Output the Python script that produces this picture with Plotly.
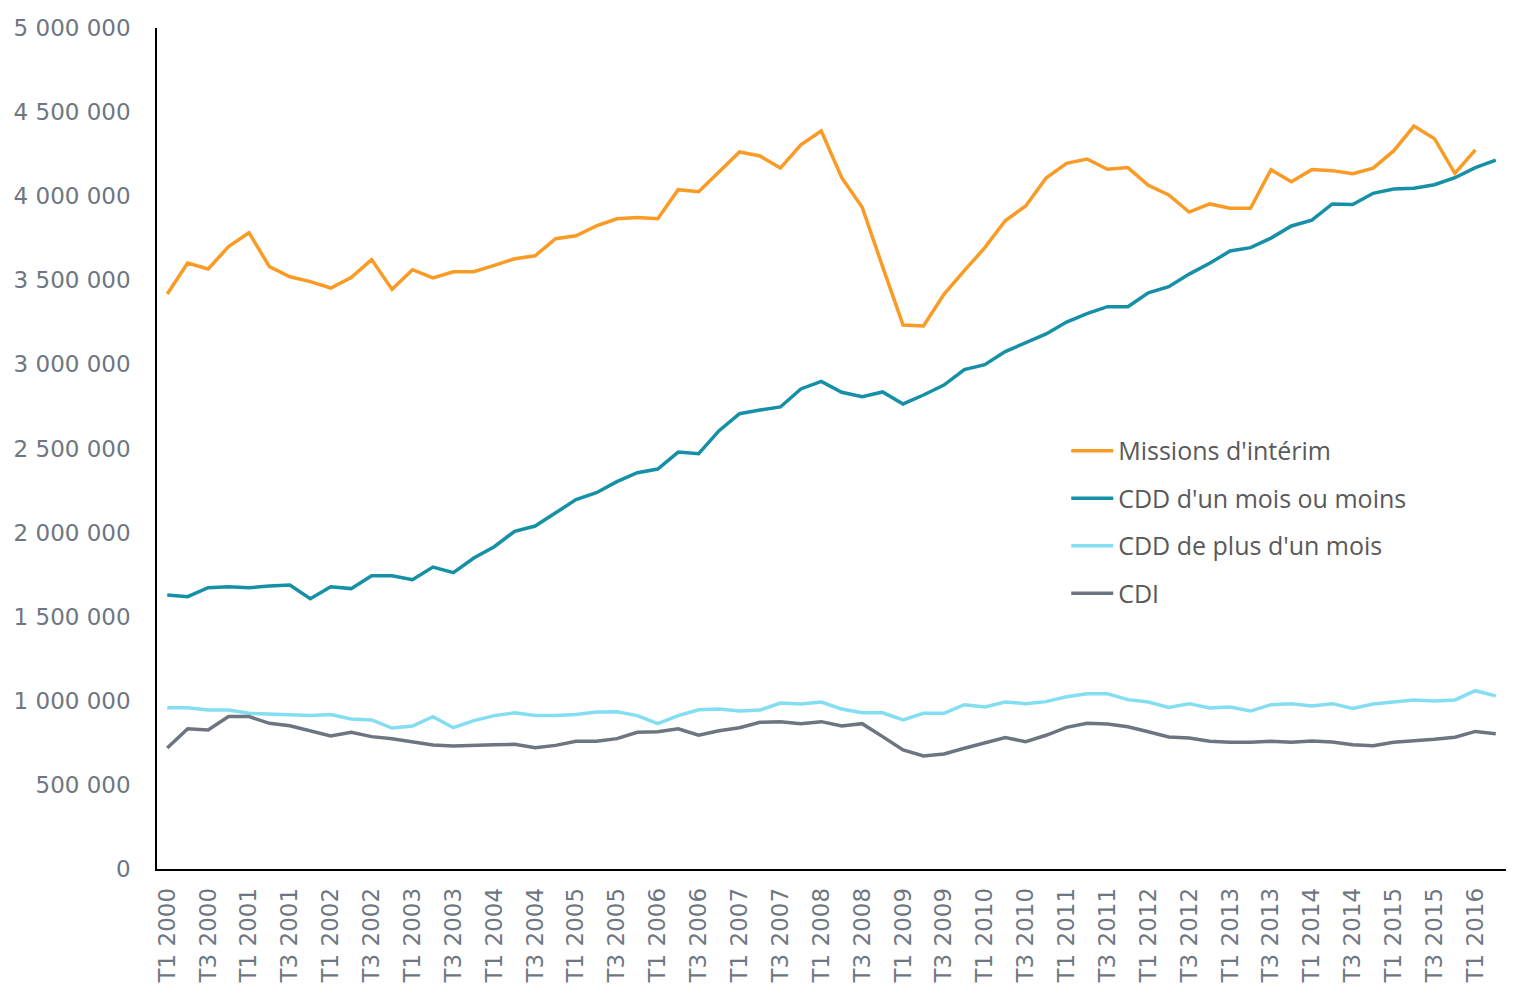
import plotly.graph_objects as go

quarters = [f"T{q} {y}" for y in range(2000, 2017) for q in (1, 2, 3, 4)][:66]

interim = [3.419, 3.603, 3.567, 3.700, 3.783, 3.581, 3.521, 3.492, 3.454, 3.516,
           3.623, 3.446, 3.563, 3.514, 3.551, 3.551, 3.589, 3.628, 3.646, 3.747,
           3.765, 3.823, 3.866, 3.874, 3.866, 4.039, 4.027, 4.146, 4.263, 4.239,
           4.167, 4.306, 4.388, 4.110, 3.934, 3.581, 3.234, 3.228, 3.417, 3.557,
           3.694, 3.854, 3.942, 4.108, 4.195, 4.221, 4.160, 4.170, 4.065, 4.007,
           3.906, 3.954, 3.928, 3.928, 4.158, 4.086, 4.158, 4.152, 4.134, 4.167,
           4.269, 4.417, 4.342, 4.136, 4.276, None]

cdd_court = [1.629, 1.619, 1.672, 1.678, 1.672, 1.683, 1.688, 1.607, 1.678, 1.667,
             1.744, 1.744, 1.720, 1.795, 1.762, 1.849, 1.916, 2.008, 2.039, 2.118,
             2.196, 2.237, 2.303, 2.356, 2.378, 2.479, 2.469, 2.606, 2.707, 2.729,
             2.747, 2.854, 2.899, 2.834, 2.808, 2.836, 2.765, 2.818, 2.877, 2.969,
             2.998, 3.076, 3.131, 3.181, 3.252, 3.302, 3.343, 3.343, 3.426, 3.462,
             3.537, 3.601, 3.674, 3.694, 3.751, 3.823, 3.858, 3.954, 3.950, 4.017,
             4.043, 4.047, 4.068, 4.110, 4.170, 4.215]

cdd_long = [0.959, 0.959, 0.945, 0.945, 0.926, 0.920, 0.918, 0.912, 0.918, 0.892,
            0.886, 0.838, 0.850, 0.906, 0.840, 0.882, 0.912, 0.929, 0.912, 0.912,
            0.918, 0.933, 0.935, 0.912, 0.864, 0.912, 0.947, 0.951, 0.939, 0.945,
            0.987, 0.981, 0.993, 0.951, 0.929, 0.929, 0.886, 0.926, 0.926, 0.977,
            0.963, 0.993, 0.983, 0.995, 1.024, 1.042, 1.042, 1.007, 0.993, 0.961,
            0.983, 0.957, 0.963, 0.939, 0.977, 0.983, 0.969, 0.983, 0.955, 0.981,
            0.993, 1.005, 0.999, 1.005, 1.060, 1.029]

cdi = [0.719, 0.834, 0.826, 0.906, 0.906, 0.866, 0.852, 0.820, 0.791, 0.813,
       0.787, 0.775, 0.757, 0.737, 0.731, 0.737, 0.739, 0.741, 0.721, 0.735,
       0.759, 0.759, 0.775, 0.813, 0.816, 0.834, 0.795, 0.822, 0.840, 0.872,
       0.876, 0.864, 0.876, 0.850, 0.864, 0.787, 0.708, 0.672, 0.684, 0.718,
       0.747, 0.781, 0.757, 0.795, 0.842, 0.866, 0.862, 0.846, 0.816, 0.785,
       0.779, 0.759, 0.753, 0.753, 0.759, 0.753, 0.761, 0.755, 0.739, 0.733,
       0.753, 0.761, 0.771, 0.783, 0.818, 0.804]

series = [
    ("Missions d'intérim", interim, "#F99B25"),
    ("CDD d'un mois ou moins", cdd_court, "#1590A6"),
    ("CDD de plus d'un mois", cdd_long, "#84DEF2"),
    ("CDI", cdi, "#6D7580"),
]

fig = go.Figure()
for i, (name, vals, col) in enumerate(series):
    fig.add_trace(go.Scatter(
        x=quarters, y=[v * 1e6 if v is not None else None for v in vals],
        mode="lines", name=name, legendgroup=f"g{i}",
        line=dict(color=col, width=3.5),
    ))

axis_font = "'DejaVu Sans', sans-serif"

fig.update_layout(
    width=1519, height=987,
    margin=dict(l=149, r=21, t=20, b=126),
    paper_bgcolor="white", plot_bgcolor="white",
    separators=", ",
    showlegend=True,
    legend=dict(
        x=0.674, y=0.5244, xanchor="left", yanchor="top",
        font=dict(family="'Open Sans', sans-serif", size=25, color="#595959"),
        bgcolor="rgba(0,0,0,0)", tracegroupgap=12, traceorder="grouped",
        itemwidth=42,
    ),
    xaxis=dict(
        type="category", range=[-0.5, 65.5], automargin=False,
        tickmode="array", tickvals=quarters[::2], ticktext=quarters[::2],
        tickangle=-90, tickfont=dict(family=axis_font, size=23, color="#6E7681"),
        showgrid=False, showline=True, linecolor="black", linewidth=1.5,
        ticks="", zeroline=False, ticklabelstandoff=8,
    ),
    yaxis=dict(
        range=[0, 5000000], tickmode="linear", tick0=0, dtick=500000,
        automargin=False,
        tickformat=",d", tickfont=dict(family=axis_font, size=23, color="#6E7681"),
        showgrid=False, showline=True, linecolor="black", linewidth=1.5,
        ticks="", zeroline=False, ticklabelstandoff=20,
    ),
)

fig.write_html("out.html")
